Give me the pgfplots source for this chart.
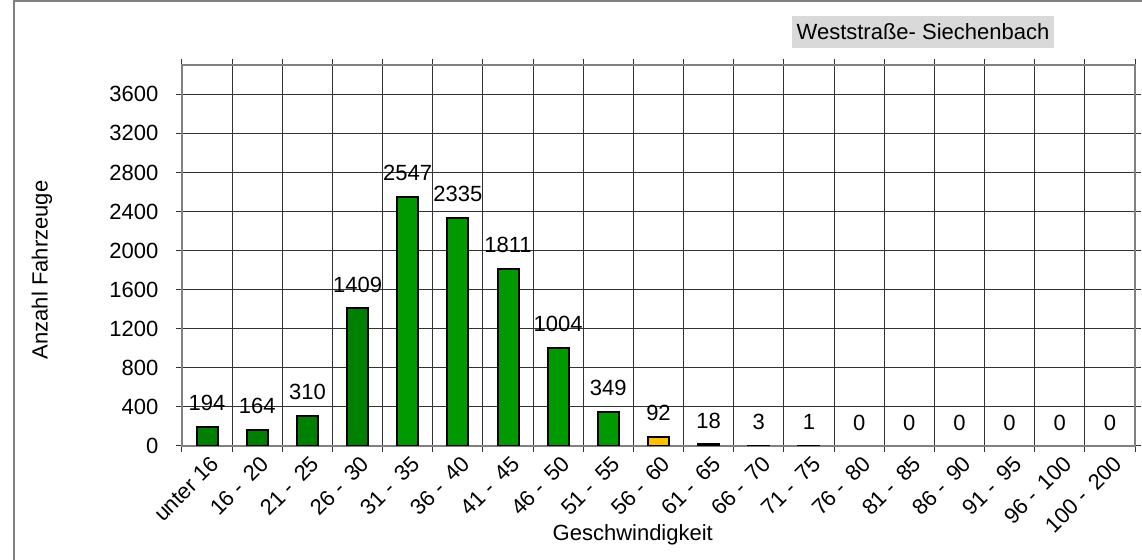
\documentclass[border=0pt]{standalone}
\usepackage{pgfplots}
\pgfplotsset{compat=1.18}
\usepackage{fontspec}
\setmainfont{Liberation Sans}
\definecolor{dgreen}{RGB}{0,128,0}
\definecolor{mgreen}{RGB}{0,153,0}
\definecolor{warnorange}{RGB}{255,192,0}
\definecolor{titlegray}{RGB}{217,217,217}
\definecolor{axisgray}{RGB}{128,128,128}
\definecolor{gridc}{RGB}{50,50,50}
\newcommand{\lf}{\fontsize{11}{13.2}\selectfont}
\newcommand{\rg}[2]{#1 -\hspace{0.45em}#2}
\begin{document}
\lf
\begin{tikzpicture}
\useasboundingbox (0,0) rectangle (571pt,280pt);
\draw[axisgray, line width=0.75pt] (7pt,0) -- (7pt,279.6pt) -- (571pt,279.6pt);
\node[fill=titlegray, minimum width=131pt, minimum height=16pt, inner sep=0pt, font=\lf] at (461.5pt,264pt) {Weststraße- Siechenbach};
\begin{axis}[
  at={(91pt,57pt)}, anchor=south west,
  scale only axis, width=476.5pt, height=190.5pt,
  ybar, bar width=10.5pt, /pgf/bar shift=0pt,
  xmin=0.5, xmax=19.5, ymin=0, ymax=3900,
  xtick={1,...,19},
  xticklabels={unter 16, \rg{16}{20}, \rg{21}{25}, \rg{26}{30}, \rg{31}{35}, \rg{36}{40}, \rg{41}{45}, \rg{46}{50}, \rg{51}{55}, \rg{56}{60}, \rg{61}{65}, \rg{66}{70}, \rg{71}{75}, \rg{76}{80}, \rg{81}{85}, \rg{86}{90}, \rg{91}{95}, \rg{96}{100}, \rg{100}{200}},
  minor xtick={0.5,1.5,...,19.5},
  ytick={0,400,...,3600},
  xminorgrids=true, xmajorgrids=false, ymajorgrids=true,
  major x tick style={draw=none},
  minor x tick style={gridc, line width=0.5pt},
  y tick style={gridc, line width=0.5pt},
  tick align=outside, major tick length=3pt, minor tick length=3pt,
  grid style={gridc, line width=0.5pt},
  minor grid style={gridc, line width=0.5pt},
  axis line style={axisgray, line width=1pt},
  /pgf/number format/assume math mode=true,
  /pgf/number format/set thousands separator={},
  tick label style={font=\lf, text=black},
  yticklabel style={xshift=-5pt},
  xticklabel style={xshift=4pt, yshift=-4pt, rotate=45, anchor=east, inner sep=0pt},
  xlabel={Geschwindigkeit},
  ylabel={Anzahl Fahrzeuge},
  label style={font=\lf},
  xlabel style={at={(axis description cs:0.473,-0.234)}, anchor=center},
  ylabel style={at={(axis description cs:-0.147,0.462)}, anchor=center},
  nodes near coords,
  every node near coord/.append style={text=black, draw=none, fill=none, anchor=south, inner sep=0pt, yshift=7.5pt, font=\lf},
]
\addplot[fill=dgreen, draw=black, line width=1pt] coordinates {(1,194) (2,164) (3,310) (4,1409)};
\addplot[fill=mgreen, draw=black, line width=1pt] coordinates {(5,2547) (6,2335) (7,1811) (8,1004) (9,349)};
\addplot[fill=warnorange, draw=black, line width=1pt] coordinates {(10,92)};
\addplot[fill=red, draw=black, line width=1pt] coordinates {(11,18) (12,3) (13,1)};
\addplot[draw=none, fill=none] coordinates {(14,0) (15,0) (16,0) (17,0) (18,0) (19,0)};
\end{axis}
\end{tikzpicture}
\end{document}
